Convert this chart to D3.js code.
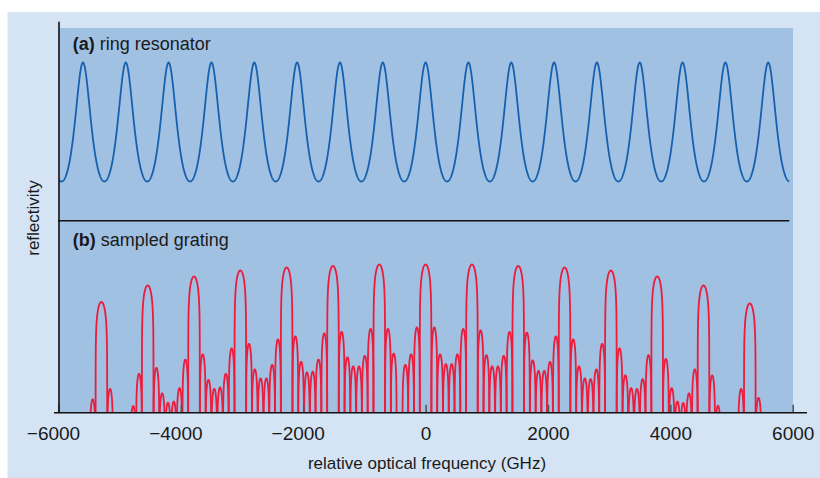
<!DOCTYPE html>
<html>
<head>
<meta charset="utf-8">
<script src="https://cdn.jsdelivr.net/npm/d3@7"></script>
<style>
  html, body { margin: 0; padding: 0; background: #ffffff; }
  svg { display: block; }
  text { font-family: "Liberation Sans", Arial, sans-serif; fill: #1a1a1a; }
</style>
</head>
<body>
<svg id="chart" width="820" height="478"></svg>
<script>
// ---- data -------------------------------------------------------------
// frequency axis (GHz)
const xDomain = [-6000, 6000];
const xTicks = [-6000, -4000, -2000, 0, 2000, 4000, 6000];

// (a) ring resonator: resonance frequencies (GHz) and curve extent
const ringPeaks = [-5600, -4900, -4200, -3500, -2800, -2100, -1400, -700, 0,
                   700, 1400, 2100, 2800, 3500, 4200, 4900, 5600];
const ringSpan = [-5990, 5945];
const ringFinesseCoeff = 1.2;

// (b) sampled grating: main reflection peaks (GHz) and their levels
const gratingPeaks = [-5299, -4542, -3785, -3028, -2271, -1514, -757, 0,
                      757, 1514, 2271, 3028, 3785, 4542, 5299];
const gratingPeakLevels = [0.74, 0.85, 0.91, 0.95, 0.97, 0.98, 0.99, 0.99,
                           0.99, 0.98, 0.97, 0.95, 0.91, 0.85, 0.73];

// side lobes: centre frequency (GHz) and level
const sidelobeFreqs = [
  -5441, -5157, -4779, -4684,
  -4400, -4306, -4211, -4116, -4022, -3927,
  -3643, -3549, -3454, -3359, -3265, -3170,
  -2886, -2792, -2697, -2602, -2508, -2413,
  -2129, -2035, -1940, -1845, -1751, -1656,
  -1372, -1278, -1183, -1088, -994, -899,
  -615, -521, -331, -237, -142,
  142, 237, 331, 426, 520, 615,
  899, 994, 1088, 1183, 1277, 1372,
  1656, 1751, 1845, 1940, 2034, 2129,
  2413, 2508, 2602, 2697, 2791, 2886,
  3170, 3265, 3359, 3454, 3548, 3643,
  3927, 4022, 4116, 4211, 4305, 4400,
  4684, 4779, 5157, 5441
];
const sidelobeLevels = [
  0.09, 0.16, 0.045, 0.26,
  0.30, 0.13, 0.067, 0.075, 0.165, 0.355,
  0.39, 0.22, 0.16, 0.17, 0.26, 0.43,
  0.46, 0.29, 0.23, 0.23, 0.32, 0.49,
  0.51, 0.34, 0.27, 0.275, 0.355, 0.53,
  0.54, 0.37, 0.31, 0.31, 0.38, 0.56,
  0.56, 0.395, 0.32, 0.39, 0.57,
  0.57, 0.39, 0.325, 0.325, 0.39, 0.56,
  0.55, 0.385, 0.31, 0.31, 0.38, 0.54,
  0.535, 0.35, 0.28, 0.28, 0.34, 0.51,
  0.49, 0.31, 0.23, 0.225, 0.29, 0.46,
  0.43, 0.25, 0.165, 0.16, 0.225, 0.385,
  0.36, 0.165, 0.075, 0.065, 0.13, 0.29,
  0.25, 0.047, 0.16, 0.10
];
// spacing of the nulls between lobes (GHz)
const nullSpacing = 94.6;
// display units per decade of reflected power
const decadeStep = 0.12;

// ---- layout -----------------------------------------------------------
const svg = d3.select("#chart");
const plot = { left: 59, right: 793, top: 28, bottom: 412.8 };
const divideY = 220.7;

const x = d3.scaleLinear().domain(xDomain).range([58.5, 792.7]);
const yRing = d3.scaleLinear().domain([0, 1]).range([181.5, 62.5]);
const yGrating = d3.scaleLinear().domain([0, 1]).range([plot.bottom, 263]);

// backgrounds
svg.append("rect").attr("x", 7.5).attr("y", 12).attr("width", 812.5).attr("height", 466)
  .attr("fill", "#d4e4f4");
svg.append("rect").attr("x", plot.left).attr("y", plot.top)
  .attr("width", plot.right - plot.left).attr("height", plot.bottom - plot.top)
  .attr("fill", "#a1c1e3");

// ---- (a) ring resonator ----------------------------------------------
function ringResponse(f) {
  let i = d3.bisectRight(ringPeaks, f) - 1;
  i = Math.max(0, Math.min(ringPeaks.length - 2, i));
  const p = ringPeaks[i];
  const fsr = ringPeaks[i + 1] - ringPeaks[i];
  const s = Math.sin(Math.PI * (f - p) / fsr);
  const a = 1 / (1 + ringFinesseCoeff * s * s);
  const aMin = 1 / (1 + ringFinesseCoeff);
  return (a - aMin) / (1 - aMin);
}
const ringFreqs = d3.range(ringSpan[0], ringSpan[1] + 0.1, 4);
svg.append("path")
  .datum(ringFreqs)
  .attr("fill", "none")
  .attr("stroke", "#1660ad")
  .attr("stroke-width", 1.8)
  .attr("stroke-linejoin", "round")
  .attr("d", d3.line().x(f => x(f)).y(f => yRing(ringResponse(f))));

// ---- (b) sampled grating ---------------------------------------------
const lobes = gratingPeaks.map((c, i) => ({ c, h: gratingPeakLevels[i], hw: nullSpacing }))
  .concat(sidelobeFreqs.map((c, i) => ({ c, h: sidelobeLevels[i], hw: nullSpacing / 2 })));

function lobePoints(lobe) {
  // extent where the lobe rises above the display floor
  const t0 = (2 / Math.PI) * Math.acos(Math.sqrt(Math.pow(10, -lobe.h / decadeStep)));
  const n = 70;
  const pts = [[lobe.c - t0 * lobe.hw, 0]];
  for (let k = 0; k <= n; k++) {
    const t = -t0 * Math.cos(Math.PI * k / n);
    const c = Math.cos(Math.PI * t / 2);
    const v = Math.max(0, lobe.h + decadeStep * Math.log10(c * c));
    pts.push([lobe.c + t * lobe.hw, v]);
  }
  pts.push([lobe.c + t0 * lobe.hw, 0]);
  return pts;
}

svg.append("g")
  .selectAll("path")
  .data(lobes)
  .join("path")
  .attr("fill", "none")
  .attr("stroke", "#ec1c3c")
  .attr("stroke-width", 1.8)
  .attr("stroke-linejoin", "round")
  .attr("d", d => d3.line().x(p => x(p[0])).y(p => yGrating(p[1]))(lobePoints(d)));

// ---- axes ---------------------------------------------------------------
svg.append("line").attr("x1", 58).attr("x2", 789.3).attr("y1", divideY).attr("y2", divideY)
  .attr("stroke", "#111").attr("stroke-width", 1.6);

const xAxis = d3.axisBottom(x)
  .tickValues(xTicks)
  .tickSize(-8)
  .tickPadding(13.5)
  .tickFormat(d => d < 0 ? "\u2212" + Math.abs(d) : String(d));

const gx = svg.append("g").attr("transform", `translate(0,${plot.bottom})`).call(xAxis);
gx.select(".domain").remove();
gx.selectAll(".tick line").attr("stroke", "#555").attr("stroke-width", 1.6);
gx.selectAll(".tick text")
  .attr("font-size", 19)
  .attr("fill", "#1a1a1a")
  .attr("dx", d => d < 0 ? "-0.29em" : 0);

svg.append("line").attr("x1", 54).attr("x2", 807).attr("y1", plot.bottom).attr("y2", plot.bottom)
  .attr("stroke", "#111").attr("stroke-width", 1.6);
svg.append("line").attr("x1", 59).attr("x2", 59).attr("y1", 21.7).attr("y2", plot.bottom)
  .attr("stroke", "#111").attr("stroke-width", 1.6);

// ---- labels -------------------------------------------------------------
function panelLabel(tag, name, y) {
  const t = svg.append("text").attr("x", 72.7).attr("y", y).attr("font-size", 18);
  t.append("tspan").attr("font-weight", "bold").text(tag);
  t.append("tspan").text(" " + name);
}
panelLabel("(a)", "ring resonator", 49.5);
panelLabel("(b)", "sampled grating", 246);

svg.append("text")
  .attr("x", 427).attr("y", 469)
  .attr("text-anchor", "middle")
  .attr("font-size", 17)
  .text("relative optical frequency (GHz)");

svg.append("text")
  .attr("transform", "translate(38.5,218) rotate(-90)")
  .attr("text-anchor", "middle")
  .attr("font-size", 17)
  .text("reflectivity");
</script>
</body>
</html>
